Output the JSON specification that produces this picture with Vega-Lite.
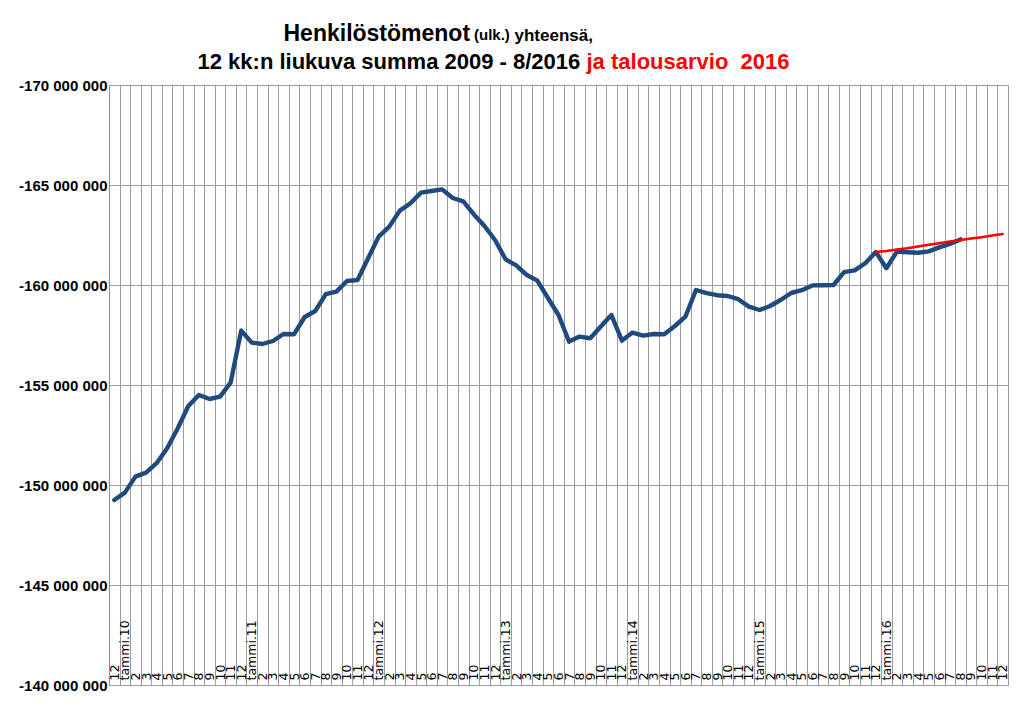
{
  "$schema": "https://vega.github.io/schema/vega-lite/v6.json",
  "width": 899,
  "height": 600,
  "autosize": {"type": "none"},
  "padding": {"left": 109, "top": 85, "right": 16, "bottom": 24},
  "background": "white",
  "config": {
    "view": {"stroke": "#8c8c8c", "strokeWidth": 1},
    "font": "Liberation Sans"
  },
  "title": {
    "text": "(ulk.)",
    "fontSize": 15,
    "fontWeight": "bold",
    "font": "Liberation Sans",
    "color": "black",
    "anchor": "start",
    "frame": "group",
    "dx": 365,
    "dy": 33,
    "offset": 0,
    "baseline": "alphabetic"
  },
  "datasets": {
    "toteuma": [
      {"kk": "2009-12", "v": -149250000},
      {"kk": "2010-01", "v": -149620000},
      {"kk": "2010-02", "v": -150420000},
      {"kk": "2010-03", "v": -150620000},
      {"kk": "2010-04", "v": -151090000},
      {"kk": "2010-05", "v": -151840000},
      {"kk": "2010-06", "v": -152840000},
      {"kk": "2010-07", "v": -153950000},
      {"kk": "2010-08", "v": -154500000},
      {"kk": "2010-09", "v": -154300000},
      {"kk": "2010-10", "v": -154420000},
      {"kk": "2010-11", "v": -155120000},
      {"kk": "2010-12", "v": -157720000},
      {"kk": "2011-01", "v": -157120000},
      {"kk": "2011-02", "v": -157050000},
      {"kk": "2011-03", "v": -157200000},
      {"kk": "2011-04", "v": -157550000},
      {"kk": "2011-05", "v": -157540000},
      {"kk": "2011-06", "v": -158400000},
      {"kk": "2011-07", "v": -158700000},
      {"kk": "2011-08", "v": -159540000},
      {"kk": "2011-09", "v": -159670000},
      {"kk": "2011-10", "v": -160200000},
      {"kk": "2011-11", "v": -160250000},
      {"kk": "2011-12", "v": -161340000},
      {"kk": "2012-01", "v": -162420000},
      {"kk": "2012-02", "v": -162920000},
      {"kk": "2012-03", "v": -163720000},
      {"kk": "2012-04", "v": -164090000},
      {"kk": "2012-05", "v": -164620000},
      {"kk": "2012-06", "v": -164700000},
      {"kk": "2012-07", "v": -164780000},
      {"kk": "2012-08", "v": -164350000},
      {"kk": "2012-09", "v": -164180000},
      {"kk": "2012-10", "v": -163530000},
      {"kk": "2012-11", "v": -162950000},
      {"kk": "2012-12", "v": -162250000},
      {"kk": "2013-01", "v": -161280000},
      {"kk": "2013-02", "v": -160980000},
      {"kk": "2013-03", "v": -160500000},
      {"kk": "2013-04", "v": -160220000},
      {"kk": "2013-05", "v": -159350000},
      {"kk": "2013-06", "v": -158500000},
      {"kk": "2013-07", "v": -157170000},
      {"kk": "2013-08", "v": -157420000},
      {"kk": "2013-09", "v": -157340000},
      {"kk": "2013-10", "v": -157920000},
      {"kk": "2013-11", "v": -158500000},
      {"kk": "2013-12", "v": -157220000},
      {"kk": "2014-01", "v": -157620000},
      {"kk": "2014-02", "v": -157470000},
      {"kk": "2014-03", "v": -157550000},
      {"kk": "2014-04", "v": -157540000},
      {"kk": "2014-05", "v": -157950000},
      {"kk": "2014-06", "v": -158420000},
      {"kk": "2014-07", "v": -159750000},
      {"kk": "2014-08", "v": -159590000},
      {"kk": "2014-09", "v": -159490000},
      {"kk": "2014-10", "v": -159450000},
      {"kk": "2014-11", "v": -159290000},
      {"kk": "2014-12", "v": -158920000},
      {"kk": "2015-01", "v": -158750000},
      {"kk": "2015-02", "v": -158950000},
      {"kk": "2015-03", "v": -159250000},
      {"kk": "2015-04", "v": -159600000},
      {"kk": "2015-05", "v": -159740000},
      {"kk": "2015-06", "v": -159980000},
      {"kk": "2015-07", "v": -159990000},
      {"kk": "2015-08", "v": -160000000},
      {"kk": "2015-09", "v": -160640000},
      {"kk": "2015-10", "v": -160730000},
      {"kk": "2015-11", "v": -161090000},
      {"kk": "2015-12", "v": -161650000},
      {"kk": "2016-01", "v": -160840000},
      {"kk": "2016-02", "v": -161670000},
      {"kk": "2016-03", "v": -161640000},
      {"kk": "2016-04", "v": -161610000},
      {"kk": "2016-05", "v": -161680000},
      {"kk": "2016-06", "v": -161880000},
      {"kk": "2016-07", "v": -162050000},
      {"kk": "2016-08", "v": -162280000}
    ],
    "talousarvio": [
      {"kk": "2015-12", "v": -161650000},
      {"kk": "2016-01", "v": -161700000},
      {"kk": "2016-02", "v": -161770000},
      {"kk": "2016-03", "v": -161840000},
      {"kk": "2016-04", "v": -161920000},
      {"kk": "2016-05", "v": -162010000},
      {"kk": "2016-06", "v": -162090000},
      {"kk": "2016-07", "v": -162170000},
      {"kk": "2016-08", "v": -162250000},
      {"kk": "2016-09", "v": -162320000},
      {"kk": "2016-10", "v": -162390000},
      {"kk": "2016-11", "v": -162470000},
      {"kk": "2016-12", "v": -162550000}
    ]
  },
  "resolve": {"axis": {"x": "independent", "y": "independent"}},
  "layer": [
    {
      "data": {"name": "toteuma"},
      "mark": {"type": "line", "color": "#1f4a7e", "strokeWidth": 4.4, "strokeJoin": "round", "strokeCap": "round"},
      "encoding": {
        "x": {
          "field": "kk",
          "type": "ordinal",
          "sort": "ascending",
          "scale": {"type": "band", "paddingInner": 0, "paddingOuter": 0},
          "axis": {
            "orient": "bottom",
            "tickBand": "extent",
            "grid": true,
            "gridColor": "#9c9c9c",
            "gridWidth": 1,
            "ticks": false,
            "tickSize": 0,
            "domain": false,
            "labelAngle": -90,
            "labelAlign": "left",
            "labelBaseline": "middle",
            "labelPadding": -5,
            "labelFontSize": 12.5,
            "labelFont": "DejaVu Sans",
            "labelColor": "black",
            "labelOverlap": false,
            "labelBound": false,
            "labelExpr": "(isString(datum.value) && length(datum.value) == 7) ? (substring(datum.value,5,7)=='01' ? 'tammi.'+substring(datum.value,2,4) : toString(toNumber(substring(datum.value,5,7)))) : ''",
            "title": "ja talousarvio\u00a0 2016",
            "titleColor": "#ff0000",
            "titleFont": "Liberation Sans",
            "titleFontSize": 22,
            "titleFontWeight": "bold",
            "titleAlign": "left",
            "titleBaseline": "alphabetic",
            "titleAngle": 0,
            "titleX": 477,
            "titleY": -617
          }
        },
        "y": {
          "field": "v",
          "type": "quantitative",
          "scale": {"domain": [-170000000, -140000000], "reverse": true, "nice": false, "zero": false},
          "axis": {
            "orient": "left",
            "values": [-170000000, -165000000, -160000000, -155000000, -150000000, -145000000, -140000000],
            "grid": true,
            "gridColor": "#9c9c9c",
            "gridWidth": 1,
            "ticks": false,
            "domain": true,
            "domainColor": "#8c8c8c",
            "labelFontSize": 15,
            "labelFontWeight": "bold",
            "labelFont": "Liberation Sans",
            "labelColor": "black",
            "labelPadding": 2,
            "labelFlush": false,
            "labelExpr": "replace(replace(format(datum.value, ',.0f'), regexp(',', 'g'), ' '), '\u2212', '-')",
            "title": "Henkilöstömenot",
            "titleFont": "Liberation Sans",
            "titleFontSize": 23,
            "titleFontWeight": "bold",
            "titleColor": "black",
            "titleAngle": 0,
            "titleAlign": "left",
            "titleBaseline": "alphabetic",
            "titleX": 174,
            "titleY": -45
          }
        }
      }
    },
    {
      "data": {"name": "talousarvio"},
      "mark": {"type": "line", "color": "#ff0000", "strokeWidth": 2.5, "strokeCap": "round"},
      "encoding": {
        "x": {
          "field": "kk",
          "type": "ordinal",
          "sort": "ascending",
          "axis": {
            "orient": "top",
            "grid": false,
            "ticks": false,
            "domain": false,
            "labels": false,
            "title": "12 kk:n liukuva summa 2009 - 8/2016",
            "titleColor": "black",
            "titleFont": "Liberation Sans",
            "titleFontSize": 22,
            "titleFontWeight": "bold",
            "titleAlign": "left",
            "titleBaseline": "alphabetic",
            "titleAngle": 0,
            "titleX": 88,
            "titleY": -17
          }
        },
        "y": {
          "field": "v",
          "type": "quantitative",
          "axis": {
            "orient": "right",
            "grid": false,
            "ticks": false,
            "domain": false,
            "labels": false,
            "title": "yhteensä,",
            "titleFont": "Liberation Sans",
            "titleFontSize": 17,
            "titleFontWeight": "bold",
            "titleColor": "black",
            "titleAngle": 0,
            "titleAlign": "left",
            "titleBaseline": "alphabetic",
            "titleX": -494,
            "titleY": -45
          }
        }
      }
    }
  ]
}
